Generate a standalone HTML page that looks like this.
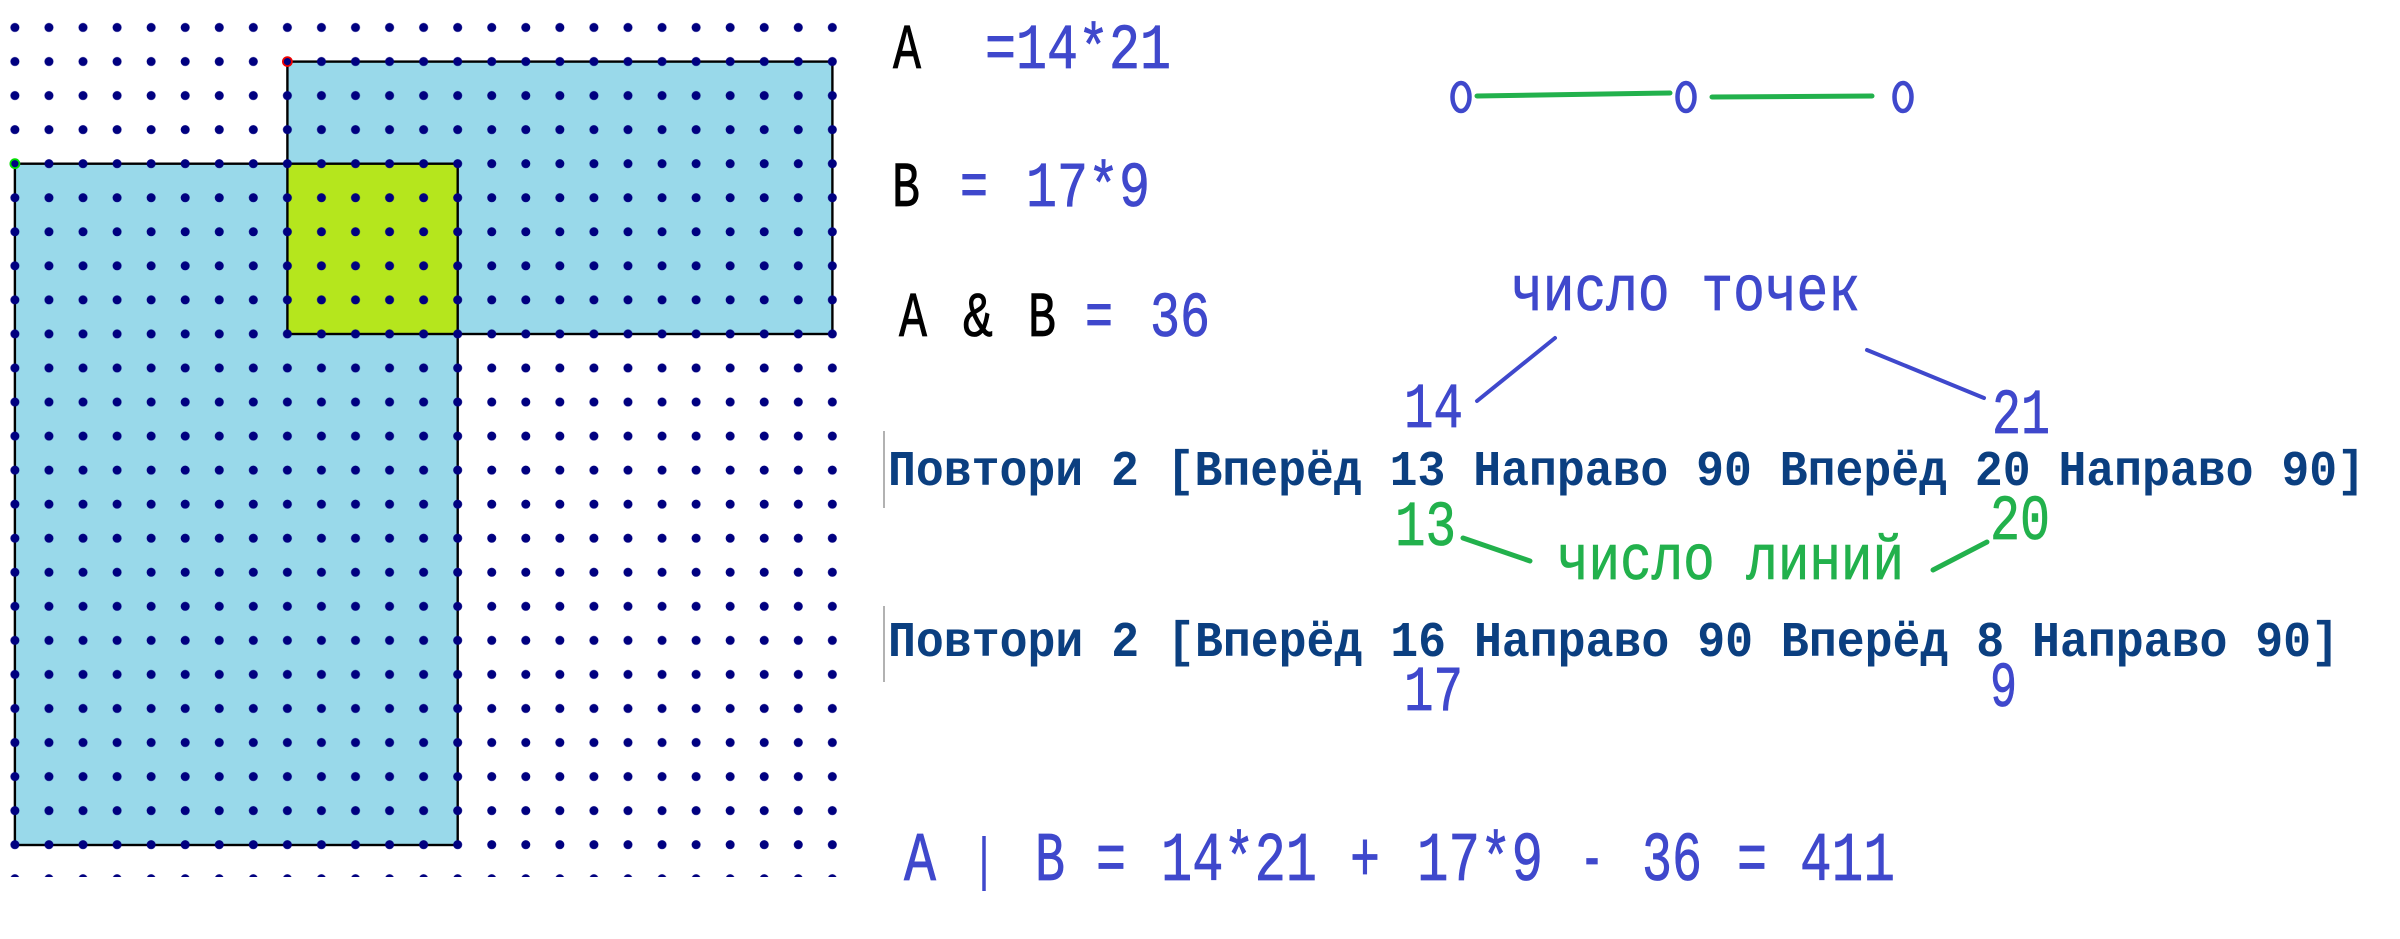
<!DOCTYPE html>
<html><head><meta charset="utf-8"><style>html,body{margin:0;padding:0;background:#fff}svg{display:block}</style></head>
<body>
<svg width="2400" height="939" viewBox="0 0 2400 939" xmlns="http://www.w3.org/2000/svg">
<defs>
<pattern id="dots" patternUnits="userSpaceOnUse" x="-2.13" y="10.48" width="34.06" height="34.05">
<circle cx="17.03" cy="17.02" r="4.5" fill="#000080"/>
</pattern>
<clipPath id="gc"><rect x="0" y="0" width="860" height="877"/></clipPath>
</defs>
<rect x="14.9" y="163.7" width="442.8" height="681.3" fill="#99d9ea"/>
<rect x="287.4" y="61.6" width="545" height="272.4" fill="#99d9ea"/>
<rect x="287.4" y="163.7" width="170.3" height="170.3" fill="#b5e61d"/>
<g fill="none" stroke="#000" stroke-width="2.4">
<rect x="14.9" y="163.7" width="442.8" height="681.3"/>
<rect x="287.4" y="61.6" width="545" height="272.4"/>
</g>
<rect x="0" y="0" width="850" height="877" fill="url(#dots)" clip-path="url(#gc)"/>
<circle cx="287.4" cy="61.6" r="4.5" fill="none" stroke="#e00" stroke-width="1.8"/>
<circle cx="14.9" cy="163.7" r="4.5" fill="none" stroke="#0d0" stroke-width="1.8"/>

<g font-family="Liberation Mono, monospace" font-size="64" stroke-width="0.8">
<text x="893" y="68" fill="#000" stroke="#000" textLength="28" lengthAdjust="spacingAndGlyphs">A</text>
<text x="985" y="68" fill="#3f48cc" stroke="#3f48cc" textLength="186" lengthAdjust="spacingAndGlyphs">=14*21</text>
<text x="892" y="206" fill="#000" stroke="#000" textLength="28" lengthAdjust="spacingAndGlyphs">B</text>
<text x="960" y="206" fill="#3f48cc" stroke="#3f48cc" textLength="28" lengthAdjust="spacingAndGlyphs">=</text>
<text x="1026" y="206" fill="#3f48cc" stroke="#3f48cc" textLength="124" lengthAdjust="spacingAndGlyphs">17*9</text>
<text x="899" y="336" fill="#000" stroke="#000" textLength="28" lengthAdjust="spacingAndGlyphs">A</text>
<text x="963" y="336" fill="#000" stroke="#000" textLength="30" lengthAdjust="spacingAndGlyphs">&amp;</text>
<text x="1028" y="336" fill="#000" stroke="#000" textLength="28" lengthAdjust="spacingAndGlyphs">B</text>
<text x="1085" y="336" fill="#3f48cc" stroke="#3f48cc" textLength="28" lengthAdjust="spacingAndGlyphs">=</text>
<text x="1150" y="336" fill="#3f48cc" stroke="#3f48cc" textLength="60" lengthAdjust="spacingAndGlyphs">36</text>
<text x="1511" y="310" fill="#3f48cc" stroke="#3f48cc" textLength="349" lengthAdjust="spacingAndGlyphs">число точек</text>
<text x="1404" y="427" fill="#3f48cc" stroke="#3f48cc" textLength="59" lengthAdjust="spacingAndGlyphs">14</text>
<text x="1992" y="433" fill="#3f48cc" stroke="#3f48cc" textLength="58" lengthAdjust="spacingAndGlyphs">21</text>
<text x="1395" y="545" fill="#22b14c" stroke="#22b14c" textLength="61" lengthAdjust="spacingAndGlyphs">13</text>
<text x="1990" y="539" fill="#22b14c" stroke="#22b14c" textLength="60" lengthAdjust="spacingAndGlyphs">20</text>
<text x="1557" y="579" fill="#22b14c" stroke="#22b14c" textLength="347" lengthAdjust="spacingAndGlyphs">число линий</text>
<text x="1404" y="710" fill="#3f48cc" stroke="#3f48cc" textLength="59" lengthAdjust="spacingAndGlyphs">17</text>
<text x="1990" y="706" fill="#3f48cc" stroke="#3f48cc" textLength="27" lengthAdjust="spacingAndGlyphs">9</text>
</g>

<g font-family="Liberation Mono, monospace" font-size="50" font-weight="bold" fill="#0b3f80">
<text x="888" y="485" textLength="1477" lengthAdjust="spacingAndGlyphs">Повтори 2 [Вперёд 13 Направо 90 Вперёд 20 Направо 90]</text>
<text x="888" y="656" textLength="1451" lengthAdjust="spacingAndGlyphs">Повтори 2 [Вперёд 16 Направо 90 Вперёд 8 Направо 90]</text>
</g>
<line x1="884" y1="431" x2="884" y2="508" stroke="#999" stroke-width="1.5"/>
<line x1="884" y1="606" x2="884" y2="682" stroke="#999" stroke-width="1.5"/>

<g font-family="Liberation Mono, monospace" font-size="70" fill="#3f48cc" stroke="#3f48cc" stroke-width="0.8">
<text x="904" y="880" textLength="32" lengthAdjust="spacingAndGlyphs">A</text>
<text x="1035" y="880" textLength="30" lengthAdjust="spacingAndGlyphs">B</text>
<text x="1096" y="880" textLength="30" lengthAdjust="spacingAndGlyphs">=</text>
<text x="1161" y="880" textLength="156" lengthAdjust="spacingAndGlyphs">14*21</text>
<text x="1350" y="880" textLength="30" lengthAdjust="spacingAndGlyphs">+</text>
<text x="1417" y="880" textLength="126" lengthAdjust="spacingAndGlyphs">17*9</text>
<text x="1580" y="880" textLength="24" lengthAdjust="spacingAndGlyphs">-</text>
<text x="1642" y="880" textLength="60" lengthAdjust="spacingAndGlyphs">36</text>
<text x="1737" y="880" textLength="30" lengthAdjust="spacingAndGlyphs">=</text>
<text x="1800" y="880" textLength="95" lengthAdjust="spacingAndGlyphs">411</text>
</g>
<line x1="984" y1="836" x2="984" y2="891" stroke="#3f48cc" stroke-width="3.5"/>

<g stroke="#3f48cc" stroke-width="4" stroke-linecap="round" fill="none">
<line x1="1555" y1="338" x2="1477" y2="401"/>
<line x1="1867" y1="350" x2="1984" y2="398"/>
<ellipse cx="1461" cy="97" rx="8.5" ry="14" stroke-width="4.5"/>
<ellipse cx="1686" cy="97" rx="8.5" ry="14" stroke-width="4.5"/>
<ellipse cx="1903" cy="97" rx="8.5" ry="14" stroke-width="4.5"/>
</g>
<g stroke="#22b14c" stroke-width="5" stroke-linecap="round" fill="none">
<line x1="1477" y1="96" x2="1670" y2="93"/>
<line x1="1712" y1="97" x2="1872" y2="96"/>
<line x1="1463" y1="538" x2="1530" y2="561"/>
<line x1="1933" y1="570" x2="1987" y2="542"/>
</g>
</svg>
</body></html>
